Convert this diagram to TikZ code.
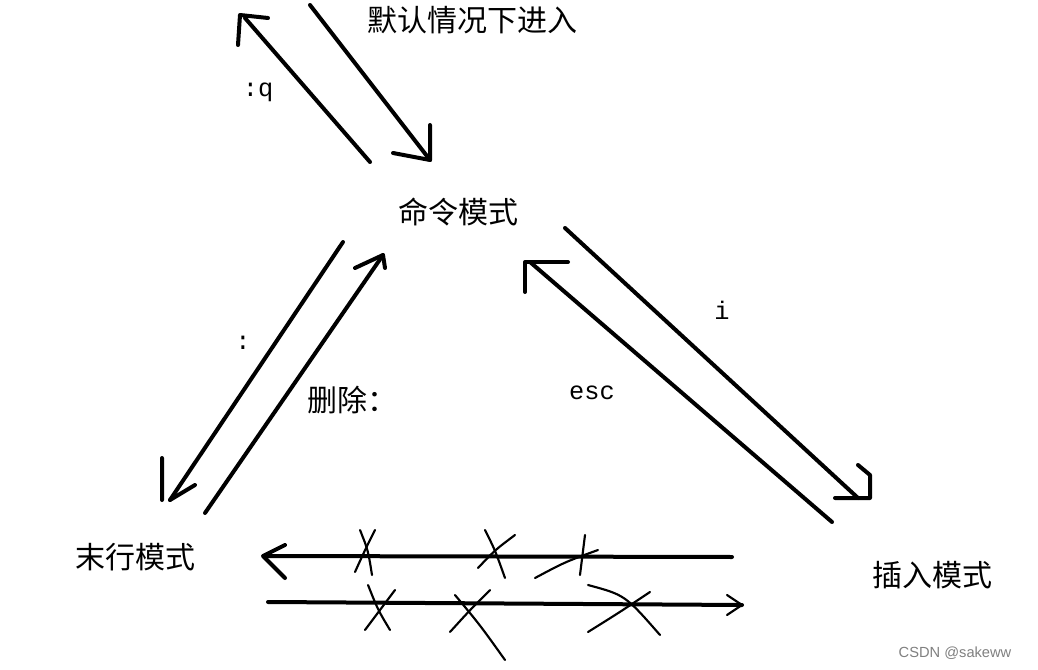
\documentclass[tikz,border=0pt]{standalone}
\usepackage{fontspec}
\setmainfont{Liberation Sans}
\newfontfamily\cjk{Noto Sans CJK SC}
\newfontfamily\mono{Liberation Mono}
\begin{document}
\begin{tikzpicture}[x=0.75pt,y=-0.75pt,
  pen/.style={line width=3pt,line cap=round,line join=round},
  thin/.style={line width=1.6pt,line cap=round},
  zh/.style={font=\cjk\fontsize{22.5}{26}\selectfont},
  lb/.style={font=\mono\fontsize{19}{22}\selectfont}]
\fill[white] (0,0) rectangle (1038,670);
\node[zh] (t0) at (472,20) {默认情况下进入};
\node[zh] (cmd) at (458,212) {命令模式};
\node[zh] (last) at (135,557) {末行模式};
\node[zh] (ins) at (932,575) {插入模式};
\node[lb] (q) at (258,92) {:q};
\node[lb] (c) at (243,343) {:};
\node[zh] (del) at (352,400) {删除：};
\node[lb] (i) at (722,310) {i};
\node[lb] (esc) at (592,393) {esc};
\node[font=\fontsize{11}{13}\selectfont,text=gray] (w) at (955,653) {CSDN @sakeww};
% top
\draw[pen] (310,5) -- (430,160);
\draw[pen] (430,125) -- (430,160) -- (393,153);
\draw[pen] (370,162) -- (245,18);
\draw[pen] (238,45) -- (240,15) -- (268,18);
% left
\draw[pen] (343,242) -- (170,500);
\draw[pen] (162,458) -- (162,500) (170,500) -- (195,485);
\draw[pen] (205,513) -- (383,255);
\draw[pen] (355,268) -- (383,255) -- (385,268);
% right
\draw[pen] (565,228) -- (858,498);
\draw[pen] (858,465) -- (870,475) -- (870,498) -- (835,498);
\draw[pen] (832,522) -- (530,262);
\draw[pen] (525,292) -- (525,262) -- (568,262);
% bottom arrows
\draw[pen] (265,556) -- (732,557);
\draw[pen] (285,545) -- (263,556) -- (285,578);
\draw[pen] (268,602) -- (742,605);
\draw[thin] (727,595) -- (742,605) -- (727,615);
% crosses
\draw[thin] (360,530) .. controls (368,550) .. (372,575);
\draw[thin] (375,530) .. controls (365,550) .. (355,572);
\draw[thin] (485,530) .. controls (495,550) .. (505,578);
\draw[thin] (515,535) .. controls (495,550) .. (478,568);
\draw[thin] (585,535) .. controls (582,555) .. (580,575);
\draw[thin] (535,578) .. controls (565,562) .. (598,550);
\draw[thin] (368,585) .. controls (378,610) .. (390,630);
\draw[thin] (395,590) .. controls (380,610) .. (365,630);
\draw[thin] (455,595) .. controls (480,625) .. (505,660);
\draw[thin] (490,590) .. controls (470,610) .. (450,632);
\draw[thin] (588,585) .. controls (625,595) .. (660,635);
\draw[thin] (650,592) .. controls (620,612) .. (588,632);
\end{tikzpicture}
\end{document}
